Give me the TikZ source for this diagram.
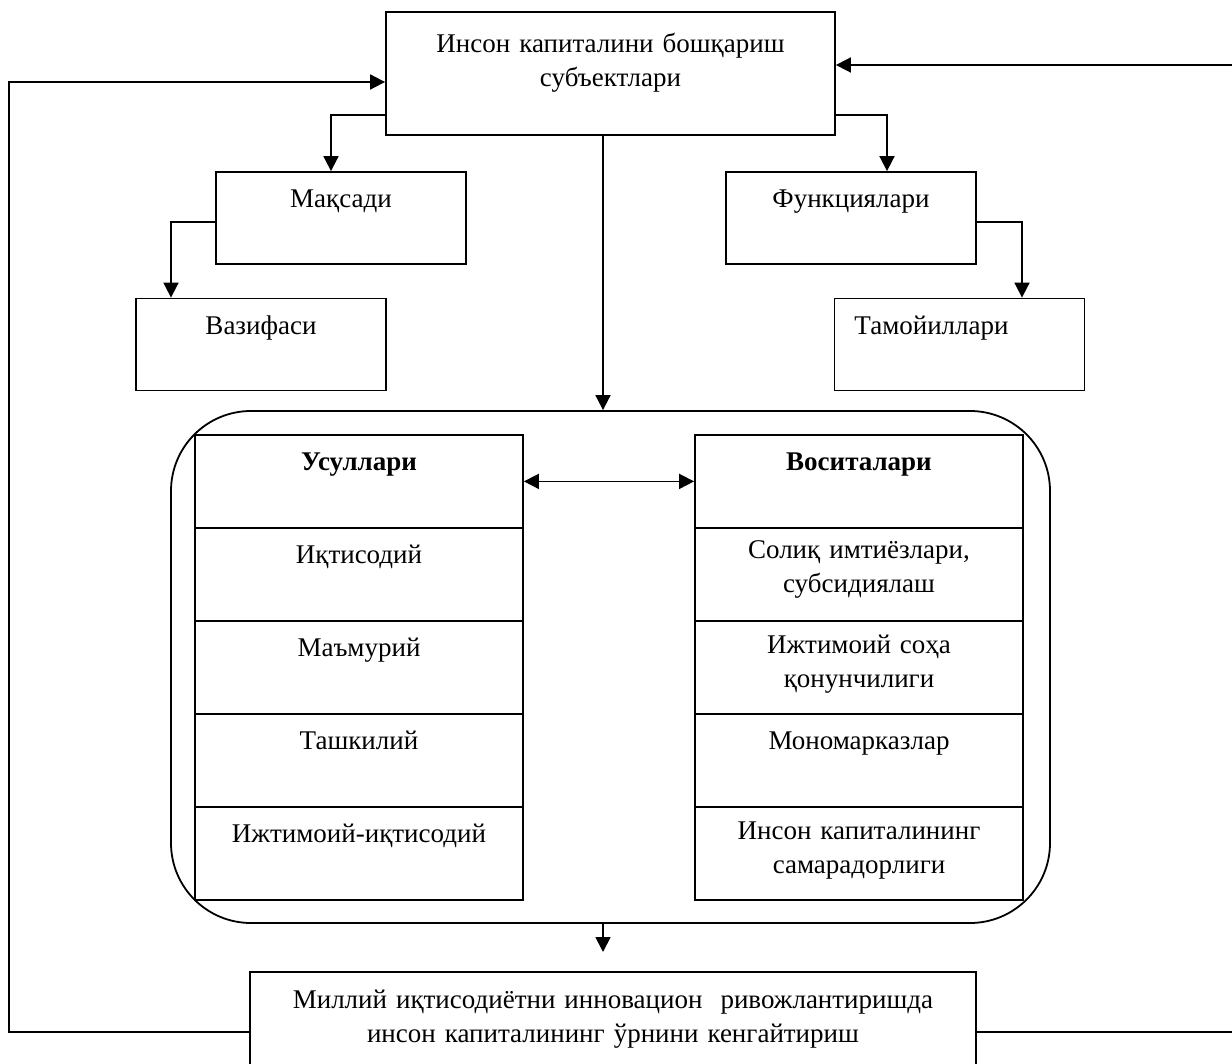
\documentclass[tikz,border=0pt]{standalone}
\usepackage{fontspec}
\setmainfont{Liberation Serif}
\usetikzlibrary{arrows.meta, positioning}

\tikzset{
  box/.style={draw, inner sep=0pt, minimum width=125pt, minimum height=46pt},
  cell/.style={draw, inner sep=0pt, minimum width=164pt, minimum height=46.5pt, anchor=north},
  txt/.style={anchor=north, align=center, text width=#1, inner sep=0pt,
    font=\fontsize{13.5}{17}\selectfont, execute at begin node={\rule{0pt}{12pt}}},
  txt/.default=160pt,
}

\begin{document}
\begin{tikzpicture}[x=0.5pt, y=-0.5pt, line width=0.9pt, >={Triangle[length=7.5pt,width=7.5pt]}]
\useasboundingbox (0,0) rectangle (1232,1064);

% subjects
\node[box, minimum width=224.5pt, minimum height=61.5pt] (subj) at (610.5,73.5) {};
\node[txt=220pt] (subjt) at ([yshift=-8.5pt]subj.north) {Инсон капиталини бошқариш\\субъектлари};

% goal, tasks, functions, principles
\node[box] (maqsad) at (341,218) {};
\node[txt] (maqsadt) at ([yshift=-6pt]maqsad.north) {Мақсади};
\node[box] (vazifa) at (261,344.5) {};
\node[txt] (vazifat) at ([yshift=-6pt]vazifa.north) {Вазифаси};
\node[box] (funk) at (851,218) {};
\node[txt] (funkt) at ([yshift=-6pt]funk.north) {Функциялари};
\node[box] (tamoyil) at (959.5,344.5) {};
\node[txt] (tamoyilt) at ([xshift=-14pt,yshift=-6pt]tamoyil.north) {Тамойиллари};

% methods and tools
\node[draw, rounded corners=40pt, minimum width=439.5pt, minimum height=256pt] (grp) at (610.5,667) {};
\foreach \lab [count=\i from 0] in {{\textbf{Усуллари}}, Иқтисодий, Маъмурий, Ташкилий, Ижтимоий-иқтисодий} {
  \node[cell] (usul\i) at (359,434+93*\i) {};
  \node[txt] (usult\i) at ([yshift=-6pt]usul\i.north) {\lab};
}
\foreach \lab/\dy [count=\i from 0] in {{\textbf{Воситалари}}/6, {Солиқ имтиёзлари,\\субсидиялаш}/3.5, {Ижтимоий соҳа\\қонунчилиги}/4.5, Мономарказлар/6, {Инсон капиталининг\\самарадорлиги}/4.5} {
  \node[cell] (vosita\i) at (859,434+93*\i) {};
  \node[txt] (vositat\i) at ([yshift=-\dy pt]vosita\i.north) {\lab};
}

% result
\node[box, minimum width=363pt, minimum height=49pt] (natija) at (613,1021) {};
\node[txt=340pt] (natijat) at ([yshift=-6pt]natija.north) {Миллий иқтисодиётни инновацион~~ривожлантиришда\\инсон капиталининг ўрнини кенгайтириш};

% arrows
\coordinate (cx) at (603,0);
\coordinate (arrend) at (603,952);
\draw[->] (subj.west |- 0,115) -| ([xshift=-5pt]maqsad.north);
\draw[->] (maqsad.west |- 0,222) -| ([xshift=-45pt]vazifa.north);
\draw[->] (subj.east |- 0,115) -| ([xshift=18pt]funk.north);
\draw[->] (funk.east |- 0,222) -| ([xshift=31.25pt]tamoyil.north);
\draw[->] (subj.south -| cx) -- (grp.north -| cx);
\draw[<->] (usul0.east) -- (vosita0.west);
\draw[->] (grp.south -| cx) -- (arrend);

% feedback
\draw[->] (natija.west |- 0,1032) -| (9,82) -- (subj.west |- 0,82);
\draw[->] (natija.east |- 0,1032) -- (1240,1032) |- (subj.east |- 0,65);
\end{tikzpicture}
\end{document}
